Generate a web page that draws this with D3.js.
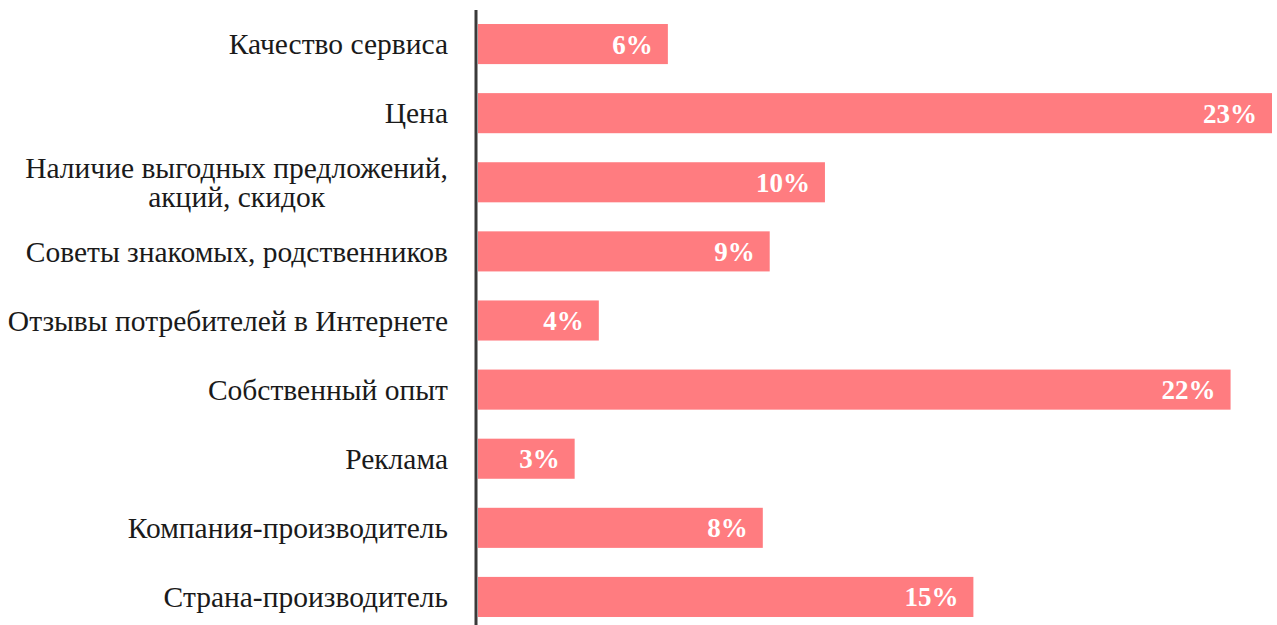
<!DOCTYPE html>
<html>
<head>
<meta charset="utf-8">
<script src="https://cdn.jsdelivr.net/npm/d3@7"></script>
<style>
  html, body { margin: 0; padding: 0; background: #fff; }
  text { font-family: "Liberation Serif", "Times New Roman", serif; }
</style>
</head>
<body>
<div id="chart"></div>
<script>
// categories, top to bottom (multi-line labels split with "\n")
const categories = [
    "Качество сервиса",
    "Цена",
    "Наличие выгодных предложений,\nакций, скидок",
    "Советы знакомых, родственников",
    "Отзывы потребителей в Интернете",
    "Собственный опыт",
    "Реклама",
    "Компания-производитель",
    "Страна-производитель"
];
// bar lengths (percent)
const values = [5.5, 23, 10.05, 8.45, 3.5, 21.8, 2.8, 8.25, 14.35];
// percentages printed on the bars
const shownLabels = ["6%", "23%", "10%", "9%", "4%", "22%", "3%", "8%", "15%"];

const width = 1277, height = 625;
const x0 = 478, x1 = 1272;

const svg = d3.select("#chart").append("svg")
    .attr("width", width)
    .attr("height", height);

const x = d3.scaleLinear().domain([0, 23]).range([x0, x1]);
const y = d3.scaleBand()
    .domain(categories)
    .range([9.5, 631.5])
    .paddingInner(0.42)
    .paddingOuter(0.21);

// bars
svg.append("g").selectAll("rect")
    .data(categories)
    .enter().append("rect")
    .attr("x", x(0))
    .attr("y", d => y(d))
    .attr("width", (d, i) => x(values[i]) - x(0))
    .attr("height", y.bandwidth())
    .attr("fill", "#ff7c80");

// value labels inside bar ends
svg.append("g").selectAll("text")
    .data(categories)
    .enter().append("text")
    .attr("x", (d, i) => x(values[i]) - 15)
    .attr("y", d => y(d) + y.bandwidth() / 2)
    .attr("dy", "0.35em")
    .attr("text-anchor", "end")
    .attr("fill", "#fff")
    .style("font-weight", "bold")
    .style("font-size", "27px")
    .text((d, i) => shownLabels[i]);

// category labels, right aligned against the axis
const lineH = 29;
const cat = svg.append("g").selectAll("g")
    .data(categories)
    .enter().append("g")
    .attr("transform", d => `translate(448,${y(d) + y.bandwidth() / 2})`);

cat.each(function (d) {
    const lines = d.split("\n");
    const t = d3.select(this).append("text")
        .attr("fill", "#1a1a1a")
        .style("font-size", "29.5px");
    lines.forEach((ln, k) => {
        t.append("tspan")
            .attr("x", 0)
            .attr("y", (k - (lines.length - 1) / 2) * lineH)
            .attr("dy", "0.35em")
            .text(ln);
    });
    if (lines.length === 1) {
        t.attr("text-anchor", "end");
    } else {
        // block right aligned, lines centred among themselves
        const w = t.node().getBBox().width;
        t.attr("text-anchor", "middle");
        t.selectAll("tspan").attr("x", -w / 2);
    }
});

// axis line
svg.append("line")
    .attr("x1", 476).attr("x2", 476)
    .attr("y1", 10).attr("y2", height)
    .attr("stroke", "#3a3a3a")
    .attr("stroke-width", 3);
</script>
</body>
</html>
